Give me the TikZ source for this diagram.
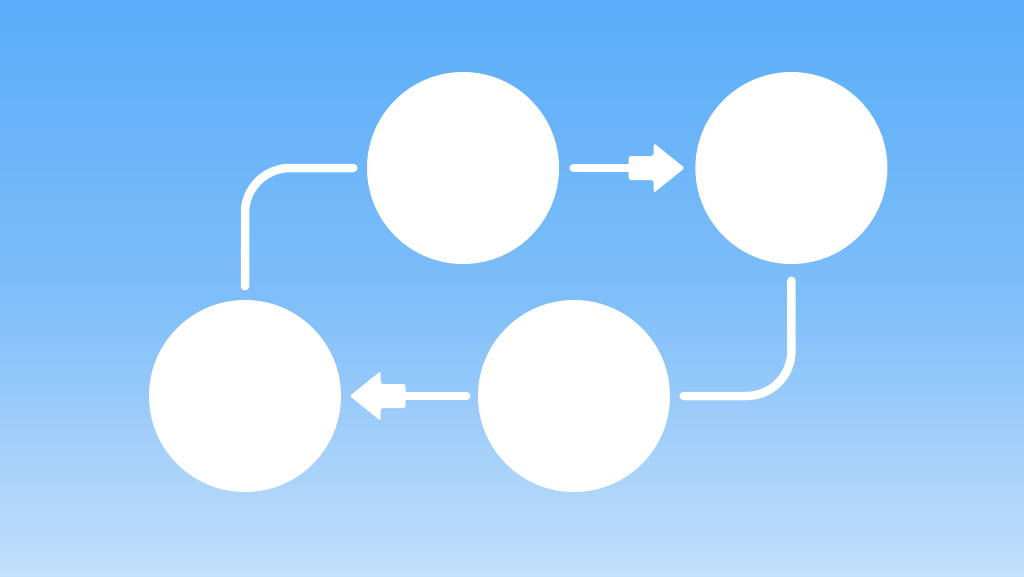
\documentclass[tikz,border=0pt]{standalone}
\usepackage{tikz}
\usetikzlibrary{calc, positioning}
\definecolor{skytop}{HTML}{5AADF9}
\definecolor{skymid}{HTML}{7DBDF9}
\definecolor{skybot}{HTML}{C3DFFB}
\tikzstyle{disc} = [circle, minimum size=1.92cm, inner sep=0pt, fill=white, draw=none]
\tikzstyle{link} = [draw=white, line width=0.085cm, line cap=round, rounded corners=0.45cm]
\tikzset{
	headtip/.pic={
		\fill[white, rounded corners=0.025cm] (0,0) -- (-0.31,0.25) -- (-0.31,0.12) -- (-0.56,0.12)
			-- (-0.56,-0.12) -- (-0.31,-0.12) -- (-0.31,-0.25) -- cycle;
	}
}
\begin{document}
\begin{tikzpicture}

	% Background
	\shade[top color=skytop, bottom color=skybot, middle color=skymid] (0,0) rectangle (10.24,5.76);
	\useasboundingbox (0,0) rectangle (10.24,5.76);

	% Nodes
	\node (tl) [disc] at (4.63,4.08) {};
	\node (tr) [disc, right=1.35cm of tl] {};
	\node (bl) [disc] at (2.45,1.80) {};
	\node (br) [disc] at (5.74,1.80) {};

	% Arrows
	\draw [link, shorten <=0.14cm, shorten >=0.50cm] (tl.east) -- (tr.west);
	\pic at ($(tr.west)+(-0.10,0)$) {headtip};
	\draw [link, shorten <=0.11cm, shorten >=0.45cm] (br.west) -- (bl.east);
	\pic [rotate=180] at ($(bl.east)+(0.08,0)$) {headtip};

	% Elbow links
	\draw [link, shorten <=0.16cm, shorten >=0.13cm] (tr.south) |- (br.east);
	\draw [link, shorten <=0.13cm, shorten >=0.13cm] (bl.north) |- (tl.west);

\end{tikzpicture}
\end{document}
